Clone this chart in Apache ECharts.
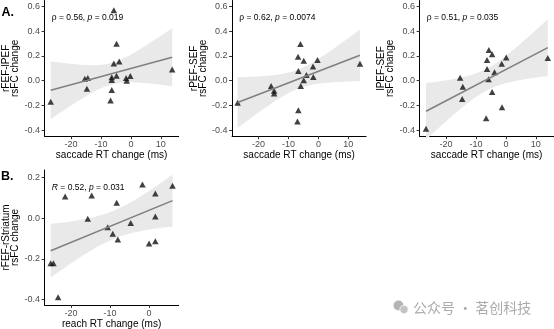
<!DOCTYPE html>
<html>
<head>
<meta charset="utf-8">
<script src="https://cdn.jsdelivr.net/npm/echarts@6/dist/echarts.min.js"></script>
<style>
  html, body { margin: 0; padding: 0; background: #fff; }
  #chart { width: 554px; height: 329px; }
</style>
</head>
<body>
<div id="chart"></div>
<script>
// ---- Data -----------------------------------------------------------------
// Panel A1: saccade RT change (ms) vs rFEF-lPEF rsFC change
const sacRtA1 = [-26.8, -5.7, -4.8, -5.7, -3.9, -15.4, -14.4, -14.7, -6.4, -6.4, -4.8, -6.4, -6.8, -1.6, -1.4, -0.2, 13.8];
const fcA1    = [-0.17, 0.57, 0.30, 0.14, 0.155, 0.016, 0.022, -0.065, 0.027, 0.005, 0.04, -0.076, -0.16, 0.022, 0.0, 0.038, 0.09];

// Panel A2: saccade RT change (ms) vs rPEF-SEF rsFC change
const sacRtA2 = [-27.0, -6.0, -6.8, -4.9, -0.3, -1.8, -6.7, -4.0, -4.9, -1.7, -5.9, -15.8, -14.8, -14.8, -6.7, -7.0, 13.9];
const fcA2    = [-0.178, 0.297, 0.195, 0.162, 0.168, 0.114, 0.078, 0.046, 0.003, 0.03, -0.043, -0.043, -0.081, -0.103, -0.24, -0.33, 0.138];

// Panel A3: saccade RT change (ms) vs lPEF-SEF rsFC change
const sacRtA3 = [-26.7, -15.3, -14.4, -14.6, -5.7, -4.6, -6.3, -6.3, -3.8, -5.8, -4.6, -6.6, -1.3, -1.4, 0.1, 14.0];
const fcA3    = [-0.39, 0.024, -0.049, -0.148, 0.249, 0.214, 0.168, 0.095, 0.068, 0.011, -0.092, -0.305, -0.216, 0.138, 0.187, 0.184];

// Panel B: reach RT change (ms) vs rFEF-rStriatum rsFC change
const reachRtB = [-25.2, -24.5, -23.3, -21.5, -14.7, -15.7, -8.3, -10.6, -9.3, -8.0, -4.7, -1.7, 1.6, 1.6, 1.6, 0.0, 6.0];
const fcB      = [-0.222, -0.222, -0.39, 0.107, 0.112, -0.003, 0.077, -0.044, -0.077, -0.105, -0.023, 0.166, 0.122, 0.008, -0.113, -0.125, 0.16];

// Tick values
const rtTicksA = [-20, -10, 0, 10];
const rtTicksB = [-20, -10, 0];
const fcTicksA = [-0.4, -0.2, 0.0, 0.2, 0.4, 0.6];
const fcTicksB = [-0.4, -0.2, 0.0, 0.2];

// Axis titles and correlation statistics
const yTitles = [['rFEF-lPEF', 'rsFC change'], ['rPEF-SEF', 'rsFC change'], ['lPEF-SEF', 'rsFC change'], ['rFEF-rStriatum', 'rsFC change']];
const xTitles = ['saccade RT change (ms)', 'saccade RT change (ms)', 'saccade RT change (ms)', 'reach RT change (ms)'];
const statSymbol = ['ρ', 'ρ', 'ρ', 'R'];
const statCoef   = ['0.56', '0.62', '0.51', '0.52'];
const statP      = ['0.019', '0.0074', '0.035', '0.031'];

// ---- Linear fit with 95% confidence band ---------------------------------------
const T975 = { 13: 2.1604, 14: 2.1448, 15: 2.1314, 16: 2.1199 };

function linearFit(xs, ys) {
  const n = xs.length;
  const mx = xs.reduce((a, b) => a + b, 0) / n;
  const my = ys.reduce((a, b) => a + b, 0) / n;
  let sxx = 0, sxy = 0;
  for (let i = 0; i < n; i++) {
    sxx += (xs[i] - mx) * (xs[i] - mx);
    sxy += (xs[i] - mx) * (ys[i] - my);
  }
  const b = sxy / sxx;
  const a = my - b * mx;
  let ssr = 0;
  for (let i = 0; i < n; i++) {
    const r = ys[i] - (a + b * xs[i]);
    ssr += r * r;
  }
  const s = Math.sqrt(ssr / (n - 2));
  const t = T975[n - 2];
  const xmin = Math.min(...xs), xmax = Math.max(...xs);
  const upper = [], lower = [];
  const steps = 80;
  for (let k = 0; k <= steps; k++) {
    const x = xmin + (xmax - xmin) * k / steps;
    const f = a + b * x;
    const se = s * Math.sqrt(1 / n + (x - mx) * (x - mx) / sxx);
    upper.push([x, f + t * se]);
    lower.push([x, f - t * se]);
  }
  return { line: [[xmin, a + b * xmin], [xmax, a + b * xmax]], upper, lower };
}

// ---- Layout ----------------------------------------------------------------------
const FONT = "'Liberation Sans', Arial, Helvetica, sans-serif";
const panels = [
  { xs: sacRtA1, ys: fcA1, xTicks: rtTicksA, yTicks: fcTicksA, grid: { left: 44.6, top: 0.5, width: 134, height: 135.7 }, xr: [-28.84, 15.94], yr: [-0.45, 0.65] },
  { xs: sacRtA2, ys: fcA2, xTicks: rtTicksA, yTicks: fcTicksA, grid: { left: 232.1, top: 0.5, width: 134, height: 135.7 }, xr: [-28.84, 15.94], yr: [-0.45, 0.65] },
  { xs: sacRtA3, ys: fcA3, xTicks: rtTicksA, yTicks: fcTicksA, grid: { left: 419.6, top: 0.5, width: 134, height: 135.7 }, xr: [-28.84, 15.94], yr: [-0.45, 0.65] },
  { xs: reachRtB, ys: fcB, xTicks: rtTicksB, yTicks: fcTicksB, grid: { left: 44.6, top: 170, width: 134, height: 135 }, xr: [-26.76, 7.56], yr: [-0.428, 0.238] }
];

const grids = [], xAxes = [], yAxes = [], series = [], graphics = [];

panels.forEach((p, i) => {
  grids.push(Object.assign({ containLabel: false }, p.grid));
  xAxes.push({
    gridIndex: i, type: 'value', min: p.xr[0], max: p.xr[1],
    splitLine: { show: false },
    axisLine: { show: true, onZero: false, lineStyle: { color: '#000', width: 1 } },
    axisTick: { show: true, length: 3, customValues: p.xTicks, lineStyle: { color: '#333', width: 1 } },
    axisLabel: { customValues: p.xTicks, fontSize: 9, color: '#4d4d4d', margin: 4, fontFamily: FONT,
      formatter: v => String(v) }
  });
  yAxes.push({
    gridIndex: i, type: 'value', min: p.yr[0], max: p.yr[1],
    splitLine: { show: false },
    axisLine: { show: true, onZero: false, lineStyle: { color: '#000', width: 1 } },
    axisTick: { show: true, length: 3, customValues: p.yTicks, lineStyle: { color: '#333', width: 1 } },
    axisLabel: { customValues: p.yTicks, fontSize: 9, color: '#4d4d4d', margin: 4.5, fontFamily: FONT,
      formatter: v => v.toFixed(1) }
  });

  const fit = linearFit(p.xs, p.ys);
  series.push({
    type: 'custom', xAxisIndex: i, yAxisIndex: i, z: 1, silent: true,
    data: [[fit.line[0][0], fit.line[0][1]]],
    renderItem: (params, api) => {
      const pts = fit.upper.map(q => api.coord(q))
        .concat(fit.lower.slice().reverse().map(q => api.coord(q)));
      return { type: 'polygon', shape: { points: pts }, style: { fill: '#e9e9e9' } };
    }
  });
  series.push({
    type: 'scatter', xAxisIndex: i, yAxisIndex: i, z: 2,
    symbol: 'triangle', symbolSize: [6.5, 6],
    itemStyle: { color: '#111' },
    data: p.xs.map((x, k) => [x, p.ys[k]])
  });
  series.push({
    type: 'line', xAxisIndex: i, yAxisIndex: i, z: 3,
    symbol: 'none', data: fit.line,
    lineStyle: { color: '#808080', width: 1.6 }
  });

  // Axis titles
  const g = p.grid;
  const cy = g.top + g.height / 2;
  const cx = g.left + g.width / 2;
  [[yTitles[i][0], g.left - 38.3], [yTitles[i][1], g.left - 29.3]].forEach(([txt, x]) => {
    graphics.push({
      type: 'text', x: x, y: cy, rotation: Math.PI / 2,
      style: { text: txt, fill: '#000', font: '10px ' + FONT,
        textAlign: 'center', textVerticalAlign: 'middle', align: 'center', verticalAlign: 'middle' }
    });
  });
  graphics.push({
    type: 'text', x: cx, y: g.top + g.height + 19,
    style: { text: xTitles[i], fill: '#000', font: '10px ' + FONT,
      textAlign: 'center', textVerticalAlign: 'middle', align: 'center', verticalAlign: 'middle' }
  });

  // Correlation label (coefficient symbol italic when it is a Latin letter)
  const sym = statSymbol[i] === 'R' ? '{i|R}{n| = ' : '{n|' + statSymbol[i] + ' = ';
  graphics.push({
    type: 'text', x: g.left + 7.2, y: g.top + 17.5,
    style: {
      text: sym + statCoef[i] + ', }{i|p}{n| = ' + statP[i] + '}',
      textVerticalAlign: 'middle', verticalAlign: 'middle',
      rich: {
        n: { fontSize: 8.5, fontFamily: FONT, fill: '#000', color: '#000' },
        i: { fontSize: 8.5, fontFamily: FONT, fill: '#000', color: '#000', fontStyle: 'italic' }
      }
    }
  });
});

// Panel letters
graphics.push({ type: 'text', x: 1.5, y: 12.5,
  style: { text: 'A.', fill: '#000', font: 'bold 12.5px ' + FONT, textVerticalAlign: 'middle', verticalAlign: 'middle' } });
graphics.push({ type: 'text', x: 1, y: 177,
  style: { text: 'B.', fill: '#000', font: 'bold 12.5px ' + FONT, textVerticalAlign: 'middle', verticalAlign: 'middle' } });

// Account badge
graphics.push({ type: 'circle', shape: { cx: 398.5, cy: 305.5, r: 5 }, style: { fill: '#b5b5b5' } });
graphics.push({ type: 'circle', shape: { cx: 404, cy: 309.5, r: 4.2 }, style: { fill: '#c4c4c4', stroke: '#fff', lineWidth: 0.8 } });
const cjk = "'Noto Sans CJK SC', sans-serif";
graphics.push({ type: 'text', x: 413, y: 308,
  style: { text: '公众号 · 茗创科技', fill: '#ababab', font: '14px ' + cjk, textVerticalAlign: 'middle', verticalAlign: 'middle' } });

const chart = echarts.init(document.getElementById('chart'), null, { renderer: 'canvas' });
chart.setOption({
  animation: false,
  backgroundColor: '#fff',
  grid: grids,
  xAxis: xAxes,
  yAxis: yAxes,
  series: series,
  graphic: { elements: graphics }
});
</script>
</body>
</html>
